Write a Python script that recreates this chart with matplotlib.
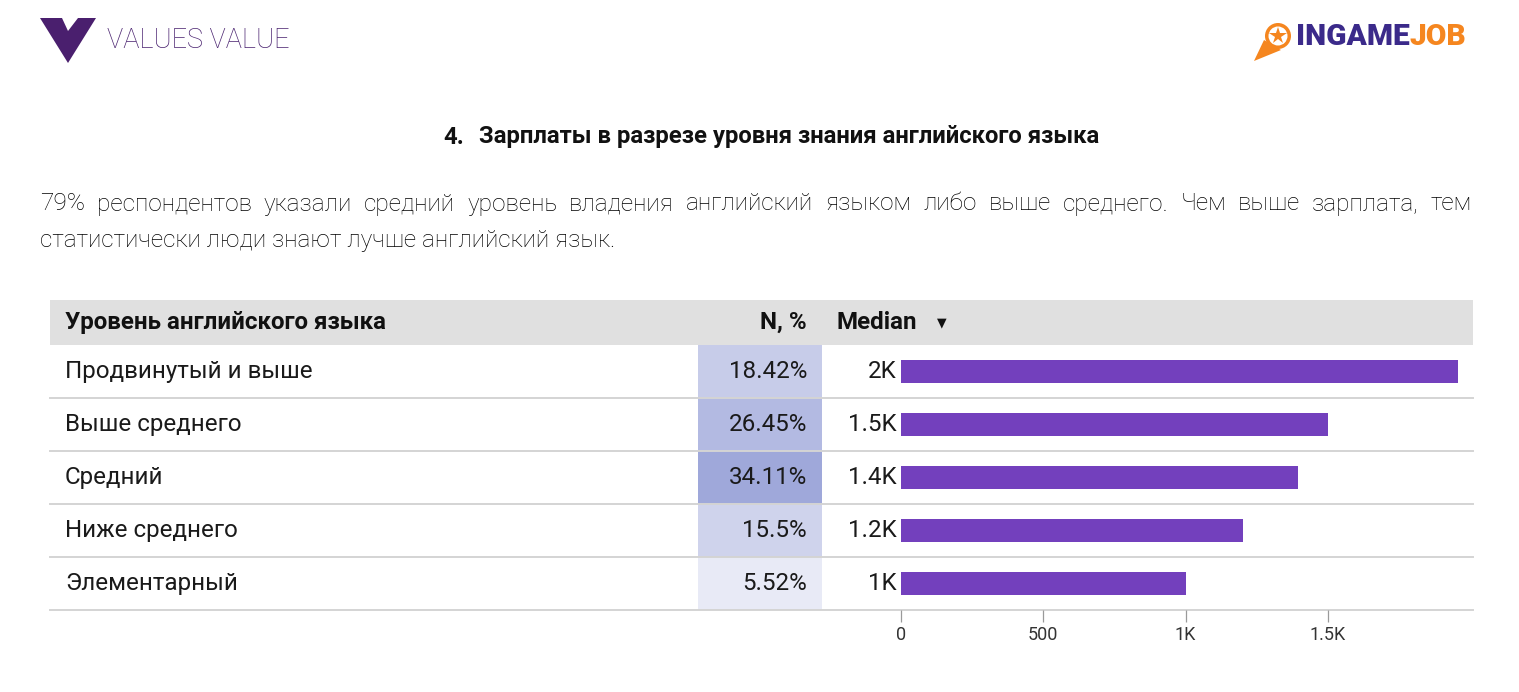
import matplotlib.pyplot as plt
from matplotlib.patches import Rectangle, Polygon, Circle
from matplotlib.colors import to_rgb
import numpy as np

# data
levels = ['Продвинутый и выше', 'Выше среднего', 'Средний', 'Ниже среднего', 'Элементарный']
share_pct = [18.42, 26.45, 34.11, 15.5, 5.52]
median_salary = [1956, 1500, 1395, 1200, 1000]
x_ticks = [0, 500, 1000, 1500]
x_tick_labels = ['0', '500', '1K', '1.5K']

title_num = '4.'
title = 'Зарплаты в разрезе уровня знания английского языка'
intro_1 = ('79% респондентов указали средний уровень владения английский языком '
           'либо выше среднего. Чем выше зарплата, тем')
intro_2 = 'статистически люди знают лучше английский язык.'
col_level = 'Уровень английского языка'
col_share = 'N, %'
col_median = 'Median'

plt.rcParams['font.family'] = ['Roboto', 'DejaVu Sans']

W, H = 1519, 692
fig = plt.figure(figsize=(W / 100, H / 100), dpi=100)
deco = fig.add_axes([0, 0, 1, 1])
deco.set_xlim(0, W)
deco.set_ylim(H, 0)
deco.axis('off')

# layout (pixels)
tab_l, tab_r = 50, 1473
head_top, row_top, row_h = 300, 345, 53
cell_l, cell_r = 698, 822
bar_l = 901
n = len(levels)
rows_bottom = row_top + n * row_h
fs = 17.4

# logos
deco.add_patch(Polygon([(40, 18), (96, 18), (68, 63)], color='#4a1f6e', lw=0))
deco.add_patch(Polygon([(62, 18), (78, 18), (68, 31)], color='white', lw=0))
deco.text(107, 41, 'VALUES VALUE', fontsize=19.5, fontweight='light', color='#4a2370', va='center')

orange = '#f5861f'
deco.add_patch(Polygon([(1254, 61), (1264, 40), (1281, 50)], color=orange, lw=0))
deco.add_patch(Circle((1278, 36), 13, color=orange, lw=0))
deco.add_patch(Circle((1278, 36), 9.5, color='white', lw=0))
deco.plot([1278], [36], marker='*', ms=13, color=orange, mew=0)
t_in = deco.text(1296, 37, 'INGAME', fontsize=21.5, fontweight='heavy', color='#3b2a8a', va='center')
fig.canvas.draw()
rend = fig.canvas.get_renderer()
ext = t_in.get_window_extent(rend)
deco.text(1296 + ext.width, 37, 'JOB', fontsize=21.5, fontweight='heavy', color=orange, va='center')

# title
deco.text(443, 137, title_num, fontsize=17.2, fontweight='bold', color='#111111', va='center')
deco.text(479, 137, title, fontsize=17.2, fontweight='bold', color='#111111', va='center')


def justify(text, x0, x1, y, **kw):
    words = text.split()
    arts = [deco.text(0, y, w, va='center', **kw) for w in words]
    fig.canvas.draw()
    r = fig.canvas.get_renderer()
    widths = [a.get_window_extent(r).width for a in arts]
    gap = (x1 - x0 - sum(widths)) / (len(words) - 1)
    x = x0
    for a, wd in zip(arts, widths):
        a.set_x(x)
        x += wd + gap


body_kw = dict(fontsize=17.6, fontweight='light', color='#000000')
justify(intro_1, 40, 1472, 204, **body_kw)
deco.text(40, 240, intro_2, va='center', **body_kw)

# table header
deco.add_patch(Rectangle((tab_l, head_top), tab_r - tab_l, row_top - head_top, color='#e0e0e0', lw=0))
head_y = (head_top + row_top) / 2
deco.text(65, head_y, col_level, fontsize=fs, fontweight='bold', color='#111111', va='center')
deco.text(807, head_y, col_share, fontsize=fs, fontweight='bold', color='#111111', va='center', ha='right')
deco.text(836, head_y, col_median, fontsize=fs, fontweight='bold', color='#111111', va='center')
deco.text(937, head_y, '▼', fontsize=9, color='#111111', va='center', family='DejaVu Sans')

# share cells, shaded by value
lo, hi = np.array(to_rgb('#e8eaf6')), np.array(to_rgb('#9fa8da'))
vmin, vmax = min(share_pct), max(share_pct)
for i, (lab, v) in enumerate(zip(levels, share_pct)):
    top = row_top + i * row_h
    f = (v - vmin) / (vmax - vmin)
    deco.add_patch(Rectangle((cell_l, top), cell_r - cell_l, row_h, color=lo + f * (hi - lo), lw=0))
    deco.text(65, top + row_h / 2, lab, fontsize=fs, color='#1a1a1a', va='center')
    deco.text(807, top + row_h / 2, f'{v:g}%', fontsize=fs, color='#1a1a1a', va='center', ha='right')
    deco.plot([tab_l, tab_r], [top + row_h, top + row_h], color='#d4d4d4', lw=1.4, zorder=3)

# bars
px_per_unit = (1328 - bar_l) / 1500
ax = fig.add_axes([bar_l / W, 1 - rows_bottom / H, (tab_r - bar_l) / W, n * row_h / H])
ax.patch.set_alpha(0)
ax.set_xlim(0, (tab_r - bar_l) / px_per_unit)
ax.set_ylim(n, 0)
y = np.arange(n) + 0.5
ax.barh(y, median_salary, height=0.42, color='#7340bd')
for yi, v in zip(y, median_salary):
    k = round(v / 1000, 1)
    ax.text(-14, yi, f'{k:g}K', ha='right', va='center', fontsize=fs, color='#1a1a1a')
for s in ax.spines.values():
    s.set_visible(False)
ax.set_xticks(x_ticks)
ax.set_xticklabels(x_tick_labels)
ax.tick_params(axis='x', length=8.5, width=0.9, color='#9a9a9a', labelsize=13,
               labelcolor='#333333', pad=3)
ax.tick_params(axis='y', left=False, labelleft=False)

fig.savefig('out.png', dpi=100)
